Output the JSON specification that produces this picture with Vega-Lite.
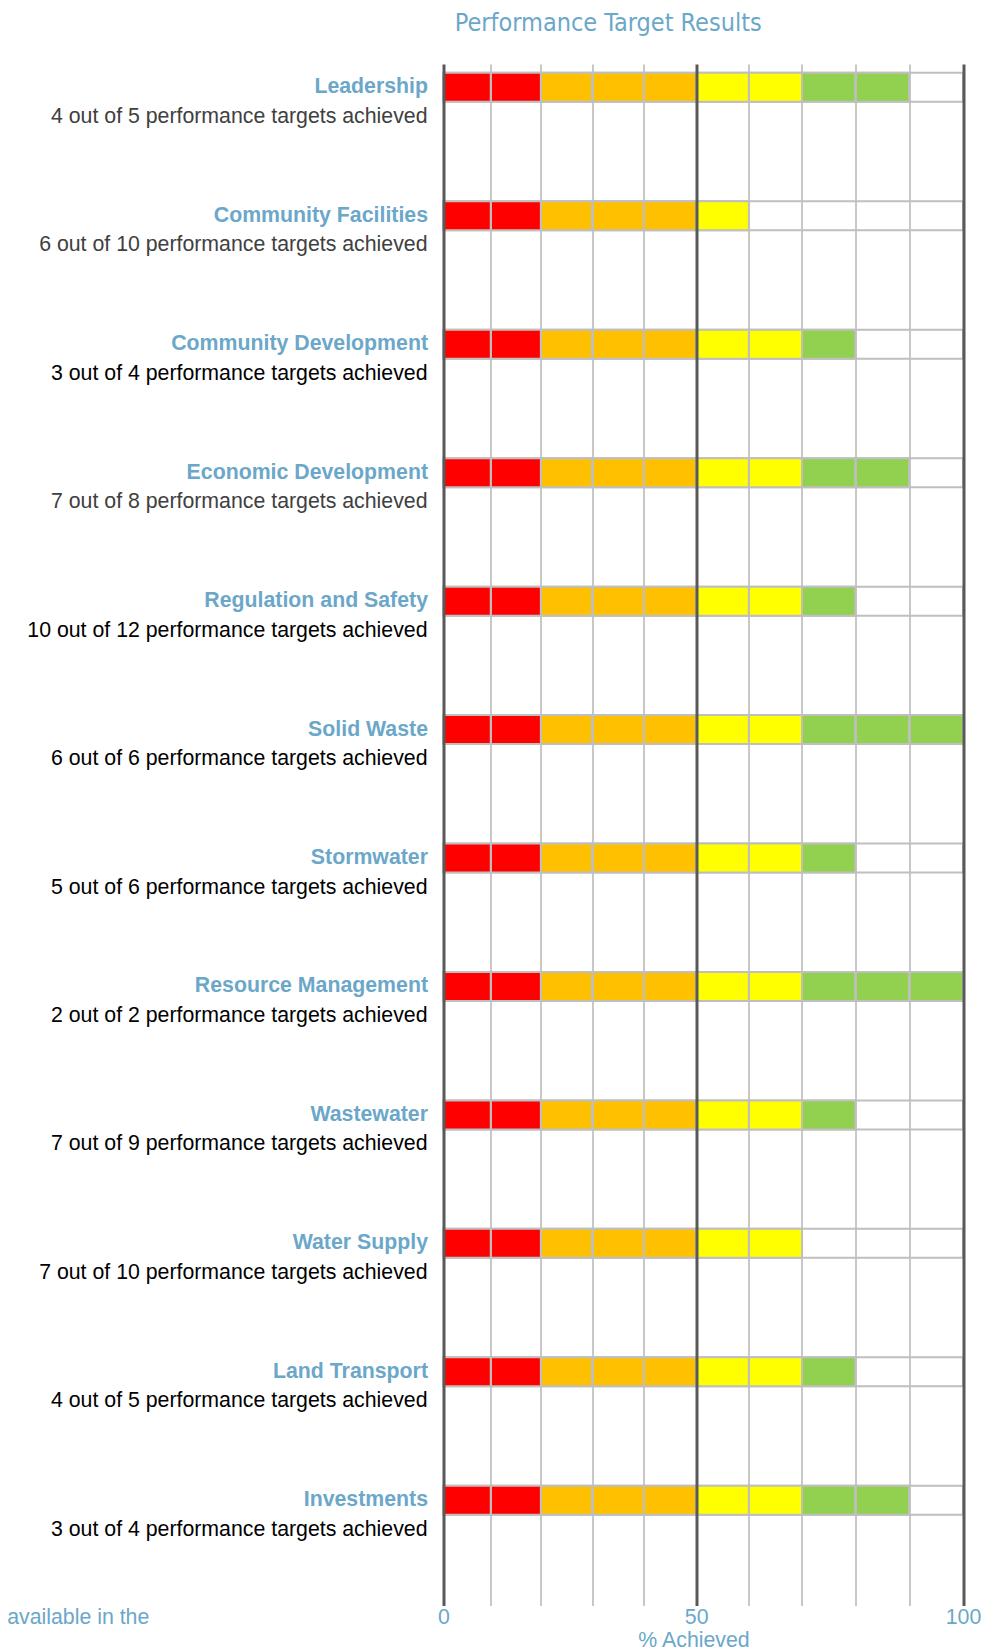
{
  "$schema": "https://vega.github.io/schema/vega-lite/v6.json",
  "autosize": {"type": "none"},
  "width": 519.5,
  "height": 1554,
  "padding": {"left": 443.5, "top": 37.3, "right": 38, "bottom": 59.7},
  "background": "white",
  "title": {
    "text": "Performance Target Results",
    "font": "DejaVu Sans Condensed, sans-serif",
    "fontSize": 25,
    "fontWeight": "normal",
    "color": "#6ba7c9",
    "anchor": "middle",
    "frame": "group",
    "dx": -95,
    "dy": 27,
    "baseline": "alphabetic",
    "offset": 8
  },
  "config": {"view": {"stroke": null}, "font": "Liberation Sans"},
  "datasets": {
    "categories": [
      {"name": "Leadership", "sub": "4 out of 5 performance targets achieved"},
      {"name": "Community Facilities", "sub": "6 out of 10 performance targets achieved"},
      {"name": "Community Development", "sub": "3 out of 4 performance targets achieved"},
      {"name": "Economic Development", "sub": "7 out of 8 performance targets achieved"},
      {"name": "Regulation and Safety", "sub": "10 out of 12 performance targets achieved"},
      {"name": "Solid Waste", "sub": "6 out of 6 performance targets achieved"},
      {"name": "Stormwater", "sub": "5 out of 6 performance targets achieved"},
      {"name": "Resource Management", "sub": "2 out of 2 performance targets achieved"},
      {"name": "Wastewater", "sub": "7 out of 9 performance targets achieved"},
      {"name": "Water Supply", "sub": "7 out of 10 performance targets achieved"},
      {"name": "Land Transport", "sub": "4 out of 5 performance targets achieved"},
      {"name": "Investments", "sub": "3 out of 4 performance targets achieved"}
    ],
    "cells": [
      {"name": "Leadership", "lo": 0, "hi": 10, "rag": "Red"},
      {"name": "Leadership", "lo": 10, "hi": 20, "rag": "Red"},
      {"name": "Leadership", "lo": 20, "hi": 30, "rag": "Amber"},
      {"name": "Leadership", "lo": 30, "hi": 40, "rag": "Amber"},
      {"name": "Leadership", "lo": 40, "hi": 50, "rag": "Amber"},
      {"name": "Leadership", "lo": 50, "hi": 60, "rag": "Yellow"},
      {"name": "Leadership", "lo": 60, "hi": 70, "rag": "Yellow"},
      {"name": "Leadership", "lo": 70, "hi": 80, "rag": "Green"},
      {"name": "Leadership", "lo": 80, "hi": 90, "rag": "Green"},

      {"name": "Community Facilities", "lo": 0, "hi": 10, "rag": "Red"},
      {"name": "Community Facilities", "lo": 10, "hi": 20, "rag": "Red"},
      {"name": "Community Facilities", "lo": 20, "hi": 30, "rag": "Amber"},
      {"name": "Community Facilities", "lo": 30, "hi": 40, "rag": "Amber"},
      {"name": "Community Facilities", "lo": 40, "hi": 50, "rag": "Amber"},
      {"name": "Community Facilities", "lo": 50, "hi": 60, "rag": "Yellow"},

      {"name": "Community Development", "lo": 0, "hi": 10, "rag": "Red"},
      {"name": "Community Development", "lo": 10, "hi": 20, "rag": "Red"},
      {"name": "Community Development", "lo": 20, "hi": 30, "rag": "Amber"},
      {"name": "Community Development", "lo": 30, "hi": 40, "rag": "Amber"},
      {"name": "Community Development", "lo": 40, "hi": 50, "rag": "Amber"},
      {"name": "Community Development", "lo": 50, "hi": 60, "rag": "Yellow"},
      {"name": "Community Development", "lo": 60, "hi": 70, "rag": "Yellow"},
      {"name": "Community Development", "lo": 70, "hi": 80, "rag": "Green"},

      {"name": "Economic Development", "lo": 0, "hi": 10, "rag": "Red"},
      {"name": "Economic Development", "lo": 10, "hi": 20, "rag": "Red"},
      {"name": "Economic Development", "lo": 20, "hi": 30, "rag": "Amber"},
      {"name": "Economic Development", "lo": 30, "hi": 40, "rag": "Amber"},
      {"name": "Economic Development", "lo": 40, "hi": 50, "rag": "Amber"},
      {"name": "Economic Development", "lo": 50, "hi": 60, "rag": "Yellow"},
      {"name": "Economic Development", "lo": 60, "hi": 70, "rag": "Yellow"},
      {"name": "Economic Development", "lo": 70, "hi": 80, "rag": "Green"},
      {"name": "Economic Development", "lo": 80, "hi": 90, "rag": "Green"},

      {"name": "Regulation and Safety", "lo": 0, "hi": 10, "rag": "Red"},
      {"name": "Regulation and Safety", "lo": 10, "hi": 20, "rag": "Red"},
      {"name": "Regulation and Safety", "lo": 20, "hi": 30, "rag": "Amber"},
      {"name": "Regulation and Safety", "lo": 30, "hi": 40, "rag": "Amber"},
      {"name": "Regulation and Safety", "lo": 40, "hi": 50, "rag": "Amber"},
      {"name": "Regulation and Safety", "lo": 50, "hi": 60, "rag": "Yellow"},
      {"name": "Regulation and Safety", "lo": 60, "hi": 70, "rag": "Yellow"},
      {"name": "Regulation and Safety", "lo": 70, "hi": 80, "rag": "Green"},

      {"name": "Solid Waste", "lo": 0, "hi": 10, "rag": "Red"},
      {"name": "Solid Waste", "lo": 10, "hi": 20, "rag": "Red"},
      {"name": "Solid Waste", "lo": 20, "hi": 30, "rag": "Amber"},
      {"name": "Solid Waste", "lo": 30, "hi": 40, "rag": "Amber"},
      {"name": "Solid Waste", "lo": 40, "hi": 50, "rag": "Amber"},
      {"name": "Solid Waste", "lo": 50, "hi": 60, "rag": "Yellow"},
      {"name": "Solid Waste", "lo": 60, "hi": 70, "rag": "Yellow"},
      {"name": "Solid Waste", "lo": 70, "hi": 80, "rag": "Green"},
      {"name": "Solid Waste", "lo": 80, "hi": 90, "rag": "Green"},
      {"name": "Solid Waste", "lo": 90, "hi": 100, "rag": "Green"},

      {"name": "Stormwater", "lo": 0, "hi": 10, "rag": "Red"},
      {"name": "Stormwater", "lo": 10, "hi": 20, "rag": "Red"},
      {"name": "Stormwater", "lo": 20, "hi": 30, "rag": "Amber"},
      {"name": "Stormwater", "lo": 30, "hi": 40, "rag": "Amber"},
      {"name": "Stormwater", "lo": 40, "hi": 50, "rag": "Amber"},
      {"name": "Stormwater", "lo": 50, "hi": 60, "rag": "Yellow"},
      {"name": "Stormwater", "lo": 60, "hi": 70, "rag": "Yellow"},
      {"name": "Stormwater", "lo": 70, "hi": 80, "rag": "Green"},

      {"name": "Resource Management", "lo": 0, "hi": 10, "rag": "Red"},
      {"name": "Resource Management", "lo": 10, "hi": 20, "rag": "Red"},
      {"name": "Resource Management", "lo": 20, "hi": 30, "rag": "Amber"},
      {"name": "Resource Management", "lo": 30, "hi": 40, "rag": "Amber"},
      {"name": "Resource Management", "lo": 40, "hi": 50, "rag": "Amber"},
      {"name": "Resource Management", "lo": 50, "hi": 60, "rag": "Yellow"},
      {"name": "Resource Management", "lo": 60, "hi": 70, "rag": "Yellow"},
      {"name": "Resource Management", "lo": 70, "hi": 80, "rag": "Green"},
      {"name": "Resource Management", "lo": 80, "hi": 90, "rag": "Green"},
      {"name": "Resource Management", "lo": 90, "hi": 100, "rag": "Green"},

      {"name": "Wastewater", "lo": 0, "hi": 10, "rag": "Red"},
      {"name": "Wastewater", "lo": 10, "hi": 20, "rag": "Red"},
      {"name": "Wastewater", "lo": 20, "hi": 30, "rag": "Amber"},
      {"name": "Wastewater", "lo": 30, "hi": 40, "rag": "Amber"},
      {"name": "Wastewater", "lo": 40, "hi": 50, "rag": "Amber"},
      {"name": "Wastewater", "lo": 50, "hi": 60, "rag": "Yellow"},
      {"name": "Wastewater", "lo": 60, "hi": 70, "rag": "Yellow"},
      {"name": "Wastewater", "lo": 70, "hi": 80, "rag": "Green"},

      {"name": "Water Supply", "lo": 0, "hi": 10, "rag": "Red"},
      {"name": "Water Supply", "lo": 10, "hi": 20, "rag": "Red"},
      {"name": "Water Supply", "lo": 20, "hi": 30, "rag": "Amber"},
      {"name": "Water Supply", "lo": 30, "hi": 40, "rag": "Amber"},
      {"name": "Water Supply", "lo": 40, "hi": 50, "rag": "Amber"},
      {"name": "Water Supply", "lo": 50, "hi": 60, "rag": "Yellow"},
      {"name": "Water Supply", "lo": 60, "hi": 70, "rag": "Yellow"},

      {"name": "Land Transport", "lo": 0, "hi": 10, "rag": "Red"},
      {"name": "Land Transport", "lo": 10, "hi": 20, "rag": "Red"},
      {"name": "Land Transport", "lo": 20, "hi": 30, "rag": "Amber"},
      {"name": "Land Transport", "lo": 30, "hi": 40, "rag": "Amber"},
      {"name": "Land Transport", "lo": 40, "hi": 50, "rag": "Amber"},
      {"name": "Land Transport", "lo": 50, "hi": 60, "rag": "Yellow"},
      {"name": "Land Transport", "lo": 60, "hi": 70, "rag": "Yellow"},
      {"name": "Land Transport", "lo": 70, "hi": 80, "rag": "Green"},

      {"name": "Investments", "lo": 0, "hi": 10, "rag": "Red"},
      {"name": "Investments", "lo": 10, "hi": 20, "rag": "Red"},
      {"name": "Investments", "lo": 20, "hi": 30, "rag": "Amber"},
      {"name": "Investments", "lo": 30, "hi": 40, "rag": "Amber"},
      {"name": "Investments", "lo": 40, "hi": 50, "rag": "Amber"},
      {"name": "Investments", "lo": 50, "hi": 60, "rag": "Yellow"},
      {"name": "Investments", "lo": 60, "hi": 70, "rag": "Yellow"},
      {"name": "Investments", "lo": 70, "hi": 80, "rag": "Green"},
      {"name": "Investments", "lo": 80, "hi": 90, "rag": "Green"}
    ]
  },
  "encoding": {
    "y": {
      "field": "name",
      "type": "nominal",
      "sort": null,
      "scale": {"type": "band", "range": [-14.2, 1527.2], "paddingInner": 0, "paddingOuter": 0},
      "axis": {
        "domain": false,
        "ticks": false,
        "tickSize": 0,
        "grid": false,
        "labelPadding": 16,
        "labelAlign": "right",
        "labelBaseline": "middle",
        "labelFont": "Liberation Sans",
        "labelFontSize": 21.3,
        "labelFontWeight": "bold",
        "labelColor": "#6ba7c9",
        "labelLimit": 600,
        "title": "available in the",
        "titleAngle": 0,
        "titleAlign": "left",
        "titleBaseline": "alphabetic",
        "titleX": -436.8,
        "titleY": 1586,
        "titleFont": "Liberation Sans",
        "titleFontSize": 21.3,
        "titleFontWeight": "normal",
        "titleColor": "#6ba7c9",
        "zindex": 1
      }
    }
  },
  "layer": [
    {
      "data": {"name": "categories"},
      "mark": {"type": "bar", "fill": "white", "stroke": "#bfbfbf", "strokeWidth": 2, "height": 29},
      "encoding": {
        "x": {
          "datum": 0,
          "type": "quantitative",
          "scale": {"type": "pow", "exponent": 1.04, "domain": [0, 100], "nice": false, "zero": true},
          "axis": {
            "values": [0, 10, 20, 30, 40, 50, 60, 70, 80, 90, 100],
            "labelExpr": "datum.value % 50 === 0 ? datum.label : ''",
            "grid": true,
            "gridColor": {"condition": {"test": "datum.value % 50 === 0", "value": "#595959"}, "value": "#bfbfbf"},
            "gridWidth": {"condition": {"test": "datum.value % 50 === 0", "value": 3}, "value": 1.7},
            "domain": false,
            "ticks": false,
            "tickSize": 0,
            "labelFlush": false,
            "labelOverlap": false,
            "labelPadding": 32,
            "labelBaseline": "alphabetic",
            "labelFont": "Liberation Sans",
            "labelFontSize": 21.3,
            "labelColor": "#6ba7c9",
            "title": "% Achieved",
            "titleFont": "Liberation Sans",
            "titleFontSize": 21.3,
            "titleFontWeight": "normal",
            "titleColor": "#6ba7c9",
            "titleX": 250,
            "titleY": 55,
            "titleAlign": "center",
            "titleBaseline": "alphabetic",
            "zindex": 1
          }
        },
        "x2": {"datum": 100}
      }
    },
    {
      "data": {"name": "cells"},
      "mark": {"type": "bar", "stroke": "#bfbfbf", "strokeWidth": 2, "height": 29},
      "encoding": {
        "x": {"field": "lo", "type": "quantitative"},
        "x2": {"field": "hi"},
        "color": {
          "field": "rag",
          "type": "nominal",
          "scale": {"domain": ["Red", "Amber", "Yellow", "Green"], "range": ["#ff0000", "#ffc000", "#ffff00", "#92d050"]},
          "legend": null
        }
      }
    },
    {
      "data": {"name": "categories"},
      "mark": {"type": "text", "align": "right", "baseline": "middle", "dx": -16, "dy": 29.5, "font": "Liberation Sans", "fontSize": 21.3},
      "encoding": {
        "x": {"datum": 0, "type": "quantitative"},
        "text": {"field": "sub"},
        "color": {
          "condition": {"test": "indexof(['Leadership', 'Community Facilities', 'Economic Development'], datum.name) >= 0", "value": "#404040"},
          "value": "#000000"
        }
      }
    }
  ]
}
